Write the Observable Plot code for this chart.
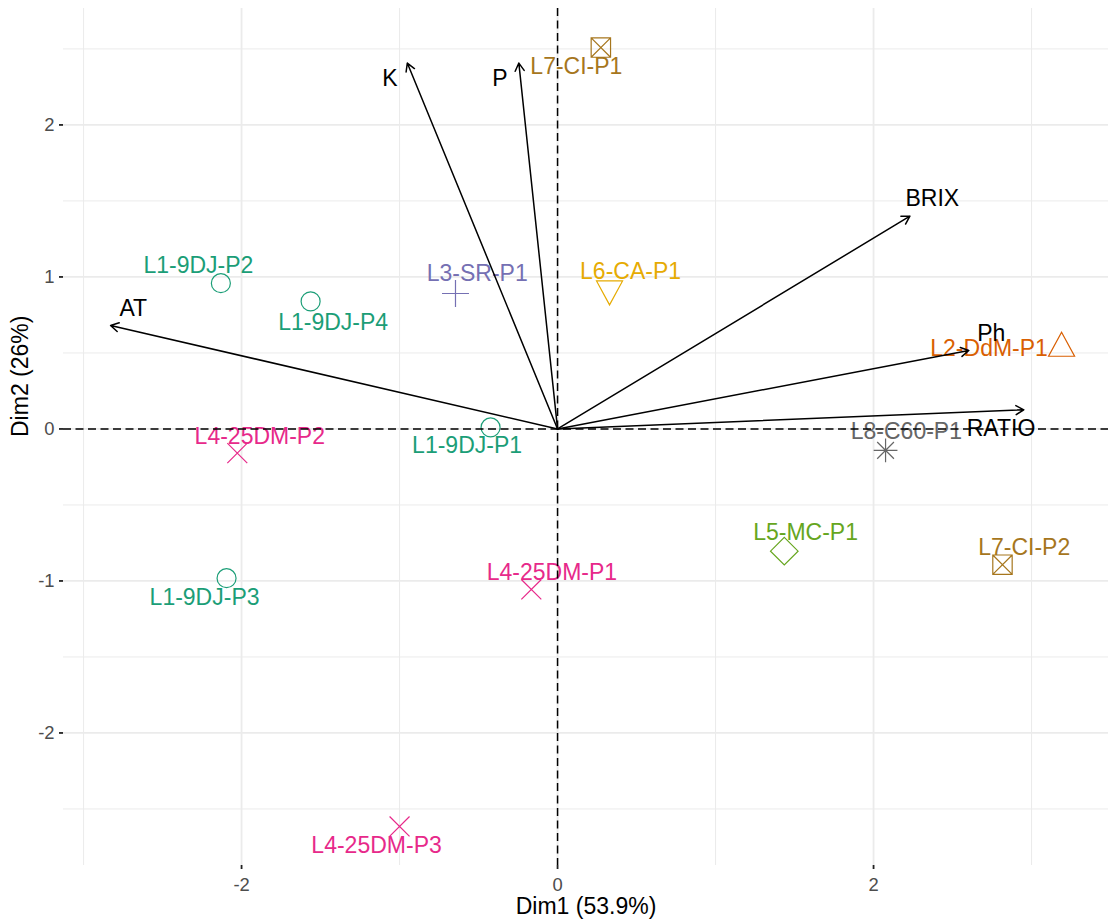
<!DOCTYPE html>
<html>
<head>
<meta charset="utf-8">
<script src="https://cdn.jsdelivr.net/npm/d3@7"></script>
<script src="https://cdn.jsdelivr.net/npm/@observablehq/plot@0.6"></script>
<style>
  html, body { margin: 0; padding: 0; background: #fff; }
  #chart svg { display: block; }
</style>
</head>
<body>
<div id="chart"></div>
<script>
// PCA biplot: individual scores on the first two dimensions
const samples = ["L1-9DJ-P1", "L1-9DJ-P2", "L1-9DJ-P3", "L1-9DJ-P4", "L2-DdM-P1", "L3-SR-P1",
  "L4-25DM-P1", "L4-25DM-P2", "L4-25DM-P3", "L5-MC-P1", "L6-CA-P1", "L7-CI-P1", "L7-CI-P2", "L8-C60-P1"];
const dim1 = [-0.424, -2.131, -2.095, -1.563, 3.190, -0.646, -0.166, -2.027, -1.000, 1.435, 0.329, 0.274, 2.816, 2.076];
const dim2 = [0.010, 0.959, -0.982, 0.839, 0.557, 0.891, -1.056, -0.159, -2.615, -0.804, 0.895, 2.509, -0.893, -0.141];

// Sample groups (lines) and their Dark2 colours
const groups = ["L1-9DJ", "L2-DdM", "L3-SR", "L4-25DM", "L5-MC", "L6-CA", "L7-CI", "L8-C60"];
const groupColors = ["#1B9E77", "#D95F02", "#7570B3", "#E7298A", "#66A61E", "#E6AB02", "#A6761D", "#666666"];

// Variable loadings (arrows)
const variables = ["AT", "K", "P", "BRIX", "Ph", "RATIO"];
const varDim1 = [-2.829, -0.951, -0.245, 2.230, 2.603, 2.951];
const varDim2 = [0.681, 2.407, 2.407, 1.400, 0.516, 0.126];

const axisTitles = { x: "Dim1 (53.9%)", y: "Dim2 (26%)" };
const xTicks = [-2, 0, 2];
const yTicks = [-2, -1, 0, 1, 2];
const xMinor = [-3, -1, 1, 3];
const yMinor = [-2.5, -1.5, -0.5, 0.5, 1.5, 2.5];

// Repelled label placement, in pixels from the anchor
const sampleLabelNudge = {
  "L1-9DJ-P1": [-23.5, 18], "L1-9DJ-P2": [-22.5, -17.7], "L1-9DJ-P3": [-22, 19.8], "L1-9DJ-P4": [22.5, 21],
  "L2-DdM-P1": [-72.5, 4.6], "L3-SR-P1": [21.7, -20], "L4-25DM-P1": [20.6, -17.3], "L4-25DM-P2": [22.5, -16],
  "L4-25DM-P3": [-23, 19], "L5-MC-P1": [21.3, -18.2], "L6-CA-P1": [21, -21], "L7-CI-P1": [-24.5, 18.6],
  "L7-CI-P2": [21.7, -16.8], "L8-C60-P1": [20.8, -19.2]
};
const variableLabelNudge = {
  "AT": [22.7, -16.7], "K": [-17.4, 15.6], "P": [-19, 15.6],
  "BRIX": [22.4, -17.4], "Ph": [22.4, -16.7], "RATIO": [-22.8, 18.7]
};

const FONT = "'Liberation Sans', Arial, Helvetica, sans-serif";

// Open point shapes drawn around the centre; r = sqrt(size / PI)
const shape = (fn) => ({ draw(ctx, size) { fn(ctx, Math.sqrt(size / Math.PI)); } });
const groupSymbols = {
  "L1-9DJ": shape((c, r) => { c.moveTo(r, 0); c.arc(0, 0, r, 0, 2 * Math.PI); c.closePath(); }),
  "L2-DdM": shape((c, r) => { const w = 1.37 * r, h = 1.26 * r; c.moveTo(0, -h); c.lineTo(w, h); c.lineTo(-w, h); c.closePath(); }),
  "L3-SR": shape((c, r) => { const a = 1.42 * r; c.moveTo(-a, 0); c.lineTo(a, 0); c.moveTo(0, -a); c.lineTo(0, a); }),
  "L4-25DM": shape((c, r) => { const a = 1.05 * r; c.moveTo(-a, -a); c.lineTo(a, a); c.moveTo(-a, a); c.lineTo(a, -a); }),
  "L5-MC": shape((c, r) => { const a = 1.45 * r; c.moveTo(0, -a); c.lineTo(a, 0); c.lineTo(0, a); c.lineTo(-a, 0); c.closePath(); }),
  "L6-CA": shape((c, r) => { const w = 1.37 * r, h = 1.26 * r; c.moveTo(0, h); c.lineTo(w, -h); c.lineTo(-w, -h); c.closePath(); }),
  "L7-CI": shape((c, r) => { const a = 1.02 * r; c.moveTo(-a, -a); c.lineTo(a, -a); c.lineTo(a, a); c.lineTo(-a, a); c.closePath();
    c.moveTo(-a, -a); c.lineTo(a, a); c.moveTo(-a, a); c.lineTo(a, -a); }),
  "L8-C60": shape((c, r) => { const p = 1.25 * r, q = 0.88 * r; c.moveTo(-p, 0); c.lineTo(p, 0); c.moveTo(0, -p); c.lineTo(0, p);
    c.moveTo(-q, -q); c.lineTo(q, q); c.moveTo(-q, q); c.lineTo(q, -q); })
};

const groupOf = (name) => name.replace(/-P\d+$/, "");
const colorOf = (g) => groupColors[groups.indexOf(g)];

const individuals = samples.map((name, i) => ({ name, group: groupOf(name), x: dim1[i], y: dim2[i] }));
const loadings = variables.map((name, i) => ({ name, x: varDim1[i], y: varDim2[i] }));

const marks = [
  // background grid
  Plot.gridX(xMinor, { stroke: "#ebebeb", strokeOpacity: 1, strokeWidth: 1 }),
  Plot.gridY(yMinor, { stroke: "#ebebeb", strokeOpacity: 1, strokeWidth: 1 }),
  Plot.gridX(xTicks, { stroke: "#ebebeb", strokeOpacity: 1, strokeWidth: 1.8 }),
  Plot.gridY(yTicks, { stroke: "#ebebeb", strokeOpacity: 1, strokeWidth: 1.8 }),
  // axes
  Plot.axisX(xTicks, { tickSize: 4, tickPadding: 8, fontSize: 18.4, color: "#4d4d4d", stroke: "#222222",
    strokeWidth: 1.8, label: null, fontFamily: FONT, tickFormat: d => String(d) }),
  Plot.axisY(yTicks, { tickSize: 4, tickPadding: 5, fontSize: 18.4, color: "#4d4d4d", stroke: "#222222",
    strokeWidth: 1.8, label: null, fontFamily: FONT, tickFormat: d => String(d) }),
  Plot.text([axisTitles.x], { text: d => d, frameAnchor: "bottom", lineAnchor: "middle", dy: 41,
    fontSize: 23, fill: "black", fontFamily: FONT }),
  Plot.text([axisTitles.y], { text: d => d, frameAnchor: "left", lineAnchor: "middle", dx: -43, rotate: -90,
    fontSize: 23, fill: "black", fontFamily: FONT })
];

// individuals: one mark per group so each gets its own shape
for (const g of groups) {
  const rows = individuals.filter(d => d.group === g);
  marks.push(Plot.dot(rows, { x: "x", y: "y", r: 9.5, symbol: groupSymbols[g], fill: "none",
    stroke: colorOf(g), strokeWidth: 1.2 }));
}
for (const d of individuals) {
  const [dx, dy] = sampleLabelNudge[d.name];
  marks.push(Plot.text([d], { x: "x", y: "y", text: "name", dx, dy, fill: colorOf(d.group),
    fontSize: 23, fontFamily: FONT, lineAnchor: "middle", textAnchor: "middle" }));
}

// origin reference lines
marks.push(Plot.ruleX([0], { stroke: "black", strokeWidth: 1.5, strokeDasharray: "8,4.5" }));
marks.push(Plot.ruleY([0], { stroke: "black", strokeWidth: 1.5, strokeDasharray: "8,4.5" }));

// variable arrows and labels
marks.push(Plot.arrow(loadings, { x1: 0, y1: 0, x2: "x", y2: "y", stroke: "black", strokeWidth: 1.5,
  headAngle: 60, headLength: 9 }));
for (const d of loadings) {
  const [dx, dy] = variableLabelNudge[d.name];
  marks.push(Plot.text([d], { x: "x", y: "y", text: "name", dx, dy, fill: "black",
    fontSize: 23, fontFamily: FONT, lineAnchor: "middle", textAnchor: "middle" }));
}

const chart = Plot.plot({
  width: 1112,
  height: 919,
  marginLeft: 63,
  marginRight: 4,
  marginTop: 8,
  marginBottom: 54,
  style: { background: "white", fontFamily: FONT },
  x: { domain: [-3.127, 3.487], axis: null },
  y: { domain: [-2.872, 2.766], axis: null },
  marks
});

document.getElementById("chart").appendChild(chart);
</script>
</body>
</html>
